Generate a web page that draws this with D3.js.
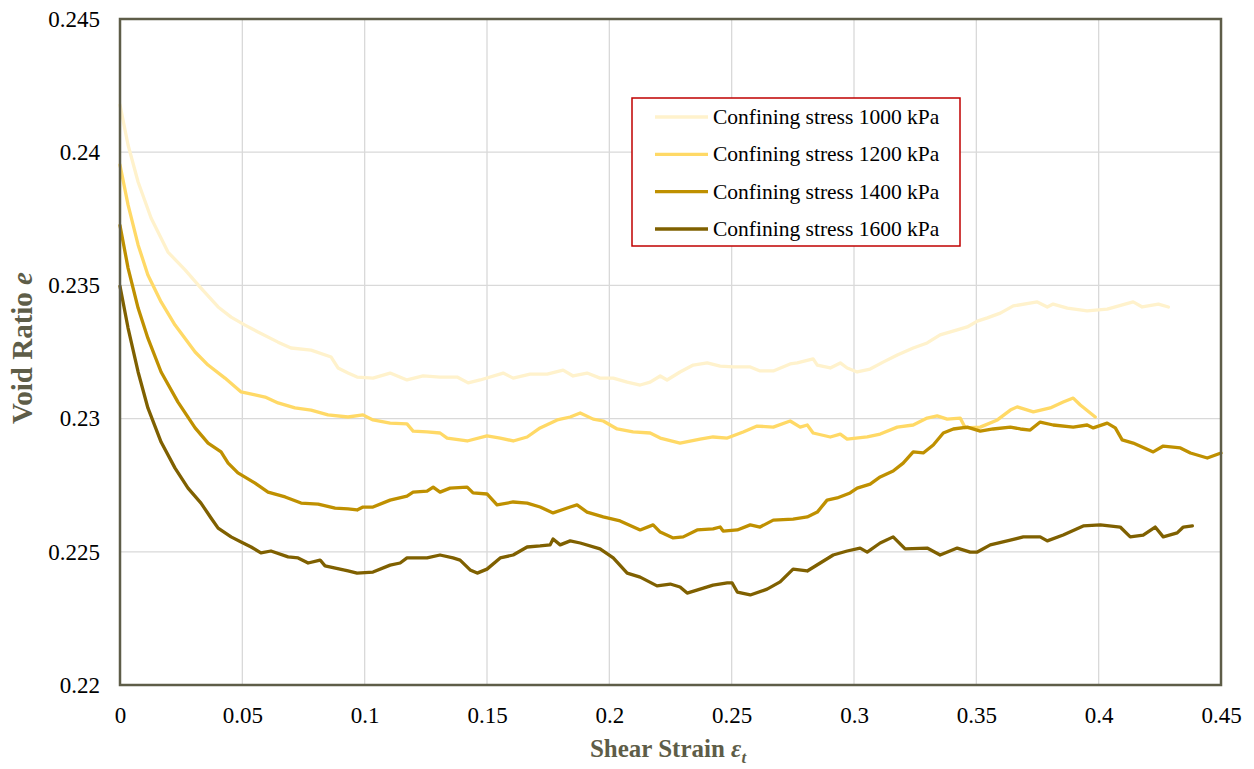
<!DOCTYPE html>
<html>
<head>
<meta charset="utf-8">
<script src="https://cdn.jsdelivr.net/npm/d3@7"></script>
<style>
  html, body { margin: 0; padding: 0; background: #ffffff; }
  svg { display: block; }
</style>
</head>
<body>
<svg id="chart" width="1254" height="769"></svg>
<script>
// Void ratio e vs shear strain for four confining stresses
const seriesNames = [
  "Confining stress 1000 kPa",
  "Confining stress 1200 kPa",
  "Confining stress 1400 kPa",
  "Confining stress 1600 kPa"
];

// [shear strain, void ratio]
const s1000 = [
  [0,0.24177],[0.0033,0.24027],[0.0074,0.23888],[0.0127,0.23753],[0.0196,0.23625],[0.0266,0.23558],
  [0.0331,0.23490],[0.0401,0.23419],[0.0454,0.23381],[0.0511,0.23351],[0.0564,0.23325],[0.0646,0.23287],
  [0.0699,0.23265],[0.0781,0.23257],[0.0863,0.23231],[0.0891,0.23190],[0.0932,0.23171],[0.0969,0.23156],
  [0.1034,0.23152],[0.1104,0.23171],[0.1173,0.23145],[0.1239,0.23160],[0.1308,0.23156],[0.1378,0.23156],
  [0.1423,0.23134],[0.1472,0.23145],[0.1566,0.23171],[0.1607,0.23152],[0.1676,0.23167],[0.1746,0.23167],
  [0.1811,0.23182],[0.1852,0.23160],[0.1909,0.23171],[0.1962,0.23152],[0.2016,0.23152],[0.2073,0.23137],
  [0.2126,0.23126],[0.2167,0.23137],[0.2208,0.23160],[0.2236,0.23145],[0.2289,0.23175],[0.2343,0.23201],
  [0.2400,0.23209],[0.2453,0.23197],[0.2506,0.23194],[0.2576,0.23194],[0.2616,0.23179],[0.2670,0.23179],
  [0.2739,0.23205],[0.2768,0.23209],[0.2833,0.23224],[0.2850,0.23201],[0.2903,0.23190],[0.2944,0.23209],
  [0.2972,0.23190],[0.3013,0.23175],[0.3066,0.23186],[0.3119,0.23212],[0.3177,0.23239],[0.3242,0.23265],
  [0.3299,0.23284],[0.3352,0.23314],[0.3422,0.23333],[0.3463,0.23344],[0.3504,0.23366],[0.3545,0.23378],
  [0.3598,0.23396],[0.3651,0.23423],[0.3749,0.23438],[0.3790,0.23419],[0.3814,0.23430],[0.3872,0.23415],
  [0.3953,0.23404],[0.4035,0.23411],[0.4141,0.23438],[0.4178,0.23419],[0.4244,0.23430],[0.4285,0.23419]
];

const s1200 = [
  [0,0.23952],[0.0033,0.23802],[0.0074,0.23652],[0.0114,0.23539],[0.0168,0.23438],[0.0225,0.23351],
  [0.0307,0.23250],[0.0360,0.23201],[0.0429,0.23152],[0.0495,0.23100],[0.0552,0.23089],[0.0593,0.23081],
  [0.0646,0.23059],[0.0715,0.23040],[0.0781,0.23032],[0.0850,0.23014],[0.0932,0.23006],[0.0993,0.23014],
  [0.1034,0.22995],[0.1104,0.22983],[0.1173,0.22980],[0.1198,0.22953],[0.1255,0.22950],[0.1308,0.22946],
  [0.1337,0.22927],[0.1419,0.22916],[0.1500,0.22935],[0.1554,0.22927],[0.1607,0.22916],[0.1664,0.22931],
  [0.1717,0.22965],[0.1787,0.22995],[0.1840,0.23006],[0.1881,0.23021],[0.1934,0.22998],[0.1975,0.22991],
  [0.2032,0.22961],[0.2097,0.22950],[0.2167,0.22946],[0.2208,0.22927],[0.2289,0.22908],[0.2371,0.22923],
  [0.2424,0.22931],[0.2482,0.22927],[0.2547,0.22950],[0.2604,0.22972],[0.2670,0.22968],[0.2739,0.22991],
  [0.2780,0.22968],[0.2809,0.22976],[0.2833,0.22946],[0.2903,0.22931],[0.2944,0.22942],[0.2972,0.22923],
  [0.3054,0.22931],[0.3107,0.22942],[0.3177,0.22968],[0.3242,0.22976],[0.3299,0.23002],[0.3340,0.23010],
  [0.3381,0.22998],[0.3434,0.23002],[0.3455,0.22965],[0.3516,0.22968],[0.3586,0.22995],[0.3639,0.23032],
  [0.3667,0.23044],[0.3733,0.23025],[0.3802,0.23040],[0.3855,0.23062],[0.3896,0.23077],[0.3925,0.23051],
  [0.3986,0.23006]
];

const s1400 = [
  [0,0.23725],[0.0033,0.23565],[0.0074,0.23415],[0.0114,0.23302],[0.0168,0.23175],[0.0237,0.23062],
  [0.0307,0.22965],[0.0360,0.22908],[0.0413,0.22875],[0.0442,0.22833],[0.0482,0.22796],[0.0552,0.22758],
  [0.0605,0.22724],[0.0675,0.22706],[0.0740,0.22683],[0.0810,0.22679],[0.0879,0.22664],[0.0932,0.22661],
  [0.0969,0.22657],[0.0993,0.22668],[0.1034,0.22668],[0.1104,0.22694],[0.1173,0.22709],[0.1198,0.22724],
  [0.1255,0.22728],[0.1280,0.22743],[0.1308,0.22724],[0.1349,0.22739],[0.1419,0.22743],[0.1443,0.22721],
  [0.1500,0.22717],[0.1541,0.22676],[0.1607,0.22687],[0.1664,0.22683],[0.1717,0.22668],[0.1770,0.22646],
  [0.1840,0.22668],[0.1868,0.22676],[0.1909,0.22649],[0.1975,0.22631],[0.2044,0.22616],[0.2126,0.22582],
  [0.2179,0.22601],[0.2208,0.22574],[0.2261,0.22552],[0.2302,0.22556],[0.2359,0.22582],[0.2424,0.22586],
  [0.2453,0.22593],[0.2465,0.22578],[0.2523,0.22582],[0.2576,0.22601],[0.2616,0.22593],[0.2670,0.22619],
  [0.2751,0.22623],[0.2809,0.22631],[0.2850,0.22649],[0.2890,0.22694],[0.2931,0.22702],[0.2984,0.22721],
  [0.3013,0.22739],[0.3066,0.22754],[0.3107,0.22781],[0.3160,0.22803],[0.3201,0.22833],[0.3242,0.22875],
  [0.3283,0.22871],[0.3324,0.22901],[0.3365,0.22946],[0.3406,0.22961],[0.3463,0.22968],[0.3516,0.22953],
  [0.3569,0.22961],[0.3639,0.22968],[0.3680,0.22961],[0.3720,0.22957],[0.3761,0.22987],[0.3814,0.22976],
  [0.3896,0.22968],[0.3953,0.22976],[0.3978,0.22965],[0.4035,0.22983],[0.4068,0.22965],[0.4096,0.22920],
  [0.4141,0.22908],[0.4223,0.22875],[0.4264,0.22897],[0.4334,0.22890],[0.4375,0.22871],[0.4444,0.22852],
  [0.4500,0.22871]
];

const s1600 = [
  [0,0.23497],[0.0033,0.23340],[0.0074,0.23175],[0.0114,0.23040],[0.0168,0.22912],[0.0225,0.22814],
  [0.0278,0.22739],[0.0331,0.22683],[0.0372,0.22627],[0.0401,0.22589],[0.0454,0.22556],[0.0495,0.22537],
  [0.0536,0.22518],[0.0576,0.22496],[0.0617,0.22503],[0.0687,0.22481],[0.0728,0.22477],[0.0769,0.22458],
  [0.0818,0.22469],[0.0838,0.22447],[0.0932,0.22428],[0.0969,0.22420],[0.1034,0.22424],[0.1104,0.22450],
  [0.1145,0.22458],[0.1173,0.22477],[0.1255,0.22477],[0.1308,0.22488],[0.1361,0.22477],[0.1390,0.22469],
  [0.1431,0.22432],[0.1460,0.22420],[0.1500,0.22435],[0.1554,0.22477],[0.1607,0.22488],[0.1664,0.22518],
  [0.1717,0.22522],[0.1758,0.22526],[0.1770,0.22548],[0.1799,0.22526],[0.1840,0.22541],[0.1881,0.22533],
  [0.1962,0.22511],[0.2016,0.22477],[0.2073,0.22420],[0.2126,0.22405],[0.2195,0.22372],[0.2249,0.22379],
  [0.2289,0.22368],[0.2318,0.22345],[0.2371,0.22360],[0.2424,0.22375],[0.2482,0.22383],[0.2502,0.22383],
  [0.2523,0.22349],[0.2576,0.22338],[0.2645,0.22360],[0.2698,0.22387],[0.2751,0.22435],[0.2809,0.22428],
  [0.2862,0.22458],[0.2915,0.22488],[0.2972,0.22503],[0.3025,0.22514],[0.3054,0.22499],[0.3107,0.22533],
  [0.3160,0.22556],[0.3209,0.22511],[0.3299,0.22514],[0.3352,0.22488],[0.3422,0.22514],[0.3475,0.22499],
  [0.3504,0.22499],[0.3557,0.22526],[0.3639,0.22544],[0.3692,0.22556],[0.3761,0.22556],[0.3790,0.22541],
  [0.3855,0.22563],[0.3937,0.22597],[0.4007,0.22601],[0.4088,0.22593],[0.4129,0.22556],[0.4182,0.22563],
  [0.4231,0.22593],[0.4264,0.22556],[0.4321,0.22571],[0.4346,0.22593],[0.4383,0.22597]
];

const seriesData = [s1000, s1200, s1400, s1600];
const seriesColors = ["#fff2cc", "#ffd966", "#bf9000", "#7f6000"];

const xTicks = [0, 0.05, 0.1, 0.15, 0.2, 0.25, 0.3, 0.35, 0.4, 0.45];
const yTicks = [0.22, 0.225, 0.23, 0.235, 0.24, 0.245];

const svg = d3.select("#chart");
const plot = { left: 120, right: 1221, top: 19, bottom: 685 };
const serif = "'Liberation Serif', 'Times New Roman', serif";
const frameColor = "#5e5d48";
const titleColor = "#5e5d48";

const x = d3.scaleLinear().domain([0, 0.45]).range([plot.left, plot.right]);
const y = d3.scaleLinear().domain([0.22, 0.245]).range([plot.bottom, plot.top]);

// gridlines
const grid = svg.append("g");
grid.selectAll("line.v").data(xTicks.slice(1, -1)).join("line")
  .attr("x1", d => x(d)).attr("x2", d => x(d))
  .attr("y1", plot.top).attr("y2", plot.bottom)
  .attr("stroke", "#d9d9d9").attr("stroke-width", 1.3);
grid.selectAll("line.h").data(yTicks.slice(1, -1)).join("line")
  .attr("x1", plot.left).attr("x2", plot.right)
  .attr("y1", d => y(d)).attr("y2", d => y(d))
  .attr("stroke", "#d9d9d9").attr("stroke-width", 1.3);

// axes (tick labels only)
const fmt = d => String(+d.toFixed(3));
const xAxis = d3.axisBottom(x).tickValues(xTicks).tickSize(0).tickPadding(22).tickFormat(fmt);
const yAxis = d3.axisLeft(y).tickValues(yTicks).tickSize(0).tickPadding(20).tickFormat(fmt);

const gx = svg.append("g").attr("transform", `translate(0,${plot.bottom})`).call(xAxis);
const gy = svg.append("g").attr("transform", `translate(${plot.left},0)`).call(yAxis);
[gx, gy].forEach(g => {
  g.select(".domain").remove();
  g.selectAll("text").attr("font-family", serif).attr("font-size", 23).attr("fill", "#000");
});

// curves
const line = d3.line().x(d => x(d[0])).y(d => y(d[1])).curve(d3.curveLinear);
svg.append("g").selectAll("path").data(seriesData).join("path")
  .attr("d", line)
  .attr("fill", "none")
  .attr("stroke", (d, i) => seriesColors[i])
  .attr("stroke-width", 3.3)
  .attr("stroke-linejoin", "round")
  .attr("stroke-linecap", "round");

// plot frame
svg.append("rect")
  .attr("x", plot.left).attr("y", plot.top)
  .attr("width", plot.right - plot.left).attr("height", plot.bottom - plot.top)
  .attr("fill", "none").attr("stroke", frameColor).attr("stroke-width", 2.5);

// axis titles
const xt = svg.append("text")
  .attr("x", 668).attr("y", 757)
  .attr("text-anchor", "middle")
  .attr("font-family", serif).attr("font-size", 25).attr("font-weight", "bold")
  .attr("fill", titleColor);
xt.append("tspan").text("Shear Strain ");
xt.append("tspan").attr("font-style", "italic").text("ε");
xt.append("tspan").attr("font-style", "italic").attr("font-size", 17).attr("dy", 6).text("t");

const yt = svg.append("text")
  .attr("transform", `translate(32,348) rotate(-90)`)
  .attr("text-anchor", "middle")
  .attr("font-family", serif).attr("font-size", 29).attr("font-weight", "bold")
  .attr("fill", titleColor);
yt.append("tspan").text("Void Ratio ");
yt.append("tspan").attr("font-style", "italic").text("e");

// legend
const legend = svg.append("g");
legend.append("rect")
  .attr("x", 632).attr("y", 98).attr("width", 328).attr("height", 148)
  .attr("fill", "#ffffff").attr("stroke", "#c00000").attr("stroke-width", 1.5);
const rowY = d3.scalePoint().domain(seriesNames).range([117, 229]);
const rows = legend.selectAll("g.row").data(seriesNames).join("g")
  .attr("transform", d => `translate(0,${rowY(d)})`);
rows.append("line")
  .attr("x1", 655).attr("x2", 708).attr("y1", 0).attr("y2", 0)
  .attr("stroke", (d, i) => seriesColors[i]).attr("stroke-width", 3.3);
rows.append("text")
  .attr("x", 713).attr("y", 7)
  .attr("font-family", serif).attr("font-size", 21.5).attr("fill", "#000")
  .text(d => d);
</script>
</body>
</html>
